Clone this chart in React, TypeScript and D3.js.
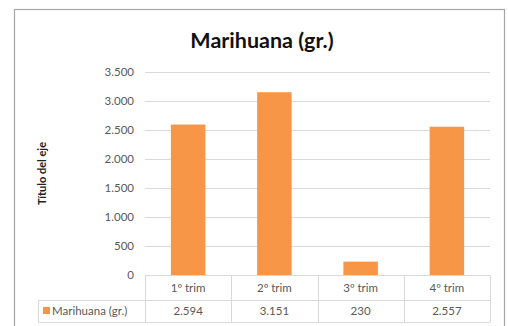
import React from "react";
import * as d3 from "d3";

const categories = ["1º trim", "2º trim", "3º trim", "4º trim"];
const values = [2594, 3151, 230, 2557];
const yTicks = [0, 500, 1000, 1500, 2000, 2500, 3000, 3500];
const seriesName = "Marihuana (gr.)";
const title = "Marihuana (gr.)";
const yAxisTitle = "Título del eje";

const W = 508;
const H = 326;
const plot = { left: 145, right: 490, top: 72, bottom: 275 };
const tableRow1 = 300;
const tableRow2 = 322;
const legendLeft = 38;

const ORANGE = "#F79646";
const GRID = "#d9d9d9";
const TEXT = "#595959";
const FONT = "Lato, 'Open Sans', sans-serif";

const loc = d3.formatLocale({ thousands: ".", grouping: [3], decimal: ",", currency: ["", ""] });
const fmt = loc.format(",d");

export default function App() {
  const x = d3.scaleBand<string>().domain(categories).range([plot.left, plot.right]).paddingInner(0.6).paddingOuter(0.3);
  const xb = d3.scaleBand<string>().domain(categories).range([plot.left, plot.right]);
  const y = d3.scaleLinear().domain([0, 3500]).range([plot.bottom, plot.top]);
  const bounds = [plot.left, ...categories.map((c) => (xb(c) as number) + xb.bandwidth())];
  const fs = 11.5;

  return (
    <svg width={W} height={H} style={{ position: "absolute", left: 0, top: 0 }} fontFamily={FONT}>
      <rect x={0} y={0} width={W} height={H} fill="#fff" />
      <rect x={14.5} y={9.5} width={490} height={330} fill="#fff" stroke="#a6a6a6" strokeWidth={1.2} />
      <text x={262} y={47.5} textAnchor="middle" fontSize={21.5} fontWeight="bold" fill="#111">{title}</text>
      {yTicks.map((t) => (
        <g key={t}>
          {t > 0 && <line x1={plot.left} x2={plot.right} y1={Math.round(y(t)) + 0.5} y2={Math.round(y(t)) + 0.5} stroke={GRID} />}
          <text x={134} y={y(t)} dy="0.35em" textAnchor="end" fontSize={fs} fill={TEXT}>{fmt(t)}</text>
        </g>
      ))}
      <text transform={`translate(46,${(plot.top + plot.bottom) / 2}) rotate(-90)`} textAnchor="middle" fontSize={11} fontWeight="bold" fill="#222">{yAxisTitle}</text>
      {categories.map((c, i) => (
        <rect key={c} x={x(c)} y={y(values[i])} width={x.bandwidth()} height={plot.bottom - y(values[i])} fill={ORANGE} />
      ))}
      {/* table */}
      <line x1={plot.left} x2={plot.right} y1={plot.bottom + 0.5} y2={plot.bottom + 0.5} stroke={GRID} />
      <line x1={legendLeft} x2={plot.right} y1={tableRow1 + 0.5} y2={tableRow1 + 0.5} stroke={GRID} />
      <line x1={legendLeft} x2={plot.right} y1={tableRow2 + 0.5} y2={tableRow2 + 0.5} stroke={GRID} />
      {bounds.map((b, i) => (
        <line key={i} x1={Math.round(b) + 0.5} x2={Math.round(b) + 0.5} y1={plot.bottom} y2={tableRow2} stroke={GRID} />
      ))}
      <line x1={legendLeft + 0.5} x2={legendLeft + 0.5} y1={tableRow1} y2={tableRow2} stroke={GRID} />
      {categories.map((c, i) => (
        <g key={c}>
          <text x={(xb(c) as number) + xb.bandwidth() / 2} y={(plot.bottom + tableRow1) / 2} dy="0.35em" textAnchor="middle" fontSize={fs} fill={TEXT}>{c}</text>
          <text x={(xb(c) as number) + xb.bandwidth() / 2} y={(tableRow1 + tableRow2) / 2} dy="0.35em" textAnchor="middle" fontSize={fs} fill={TEXT}>{fmt(values[i])}</text>
        </g>
      ))}
      <rect x={43} y={307} width={7} height={7} fill={ORANGE} />
      <text x={52} y={(tableRow1 + tableRow2) / 2} dy="0.35em" fontSize={fs} fill={TEXT}>{seriesName}</text>
    </svg>
  );
}
